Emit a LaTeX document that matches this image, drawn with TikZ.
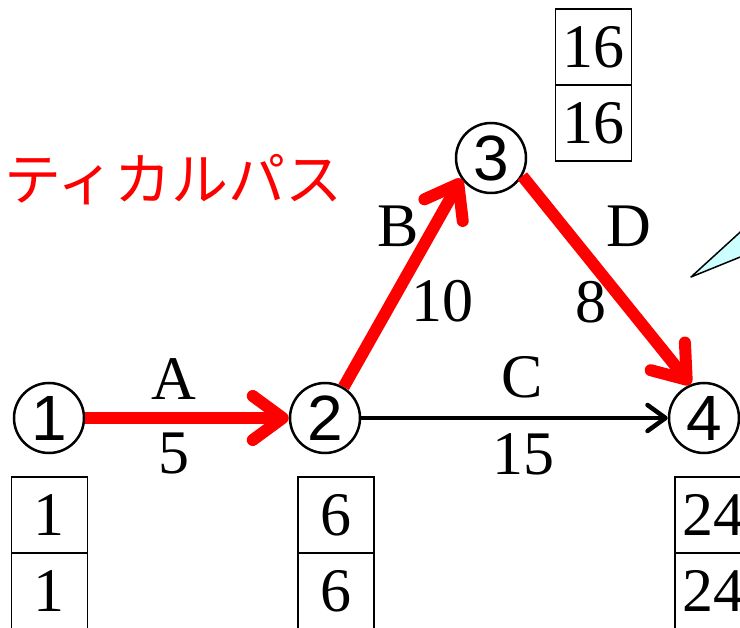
\documentclass[tikz,border=0pt]{standalone}
\usepackage{fontspec}
\setmainfont{Liberation Serif}
\setsansfont{Liberation Sans}
\newfontfamily\jpfont{Noto Sans CJK JP}
\usepackage{xcolor}
\usepackage{tikz}
\usetikzlibrary{arrows.meta,positioning}
\definecolor{pathred}{HTML}{FF0000}
\definecolor{calloutcyan}{HTML}{CCFFFF}

\begin{document}
\begin{tikzpicture}[x=1pt, y=-1pt,
    event/.style={circle, draw, line width=2.5pt, minimum size=70pt, inner sep=0pt, font=\sffamily\fontsize{64}{64}\selectfont},
    cell/.style={draw, line width=1.5pt, outer sep=0pt, minimum width=76pt, minimum height=76pt, inner sep=0pt, font=\fontsize{62}{62}\selectfont},
    lbl/.style={inner sep=0pt, font=\fontsize{62}{62}\selectfont},
    crit/.style={pathred, line width=12pt, -{Straight Barb[length=30pt,width=44pt,round]}},
    plain/.style={line width=4.5pt, -{Straight Barb[length=18pt,width=26pt,round]}}]
  \useasboundingbox (0,0) rectangle (740,628);
  \clip (0,0) rectangle (740,628);
  % events
  \node[event] (n1) at (49,418) {1};
  \node[event] (n2) at (325,418) {2};
  \node[event] (n3) at (491,158) {3};
  \node[event] (n4) at (704,418) {4};
  % earliest / latest times
  \node[cell] (t1) at (49.5,515) {1};
  \node[cell, below=0pt of t1] (b1) {1};
  \node[cell] (t2) at (336,515) {6};
  \node[cell, below=0pt of t2] (b2) {6};
  \node[cell] (t3) at (593.5,47) {16};
  \node[cell, below=0pt of t3] (b3) {16};
  \node[cell] (t4) at (713,515) {24};
  \node[cell, below=0pt of t4] (b4) {24};
  % activities
  \draw[crit] (n1) -- (n2);
  \draw[crit] (n2.59) -- (n3.215);
  \draw[crit] (n3.-30) -- (n4.112);
  \draw[plain] (n2) -- (n4);
  \node[lbl] (labA) at (174,379) {A};
  \node[lbl] (durA) at (174,454) {5};
  \node[lbl] (labB) at (398,226) {B};
  \node[lbl] (durB) at (442,301) {10};
  \node[lbl] (labC) at (522,377) {C};
  \node[lbl] (durC) at (523,454) {15};
  \node[lbl] (labD) at (629,226) {D};
  \node[lbl] (durD) at (591,302) {8};
  % caption
  \node[anchor=west, inner sep=0pt, text=pathred, font=\jpfont\fontsize{57}{57}\selectfont] (cpath) at (4,180) {ティカルパス};
  % callout pointer
  \filldraw[fill=calloutcyan, line width=1.5pt, line join=round] (691,277) -- (760,214) -- (760,249) -- cycle;
\end{tikzpicture}
\end{document}
